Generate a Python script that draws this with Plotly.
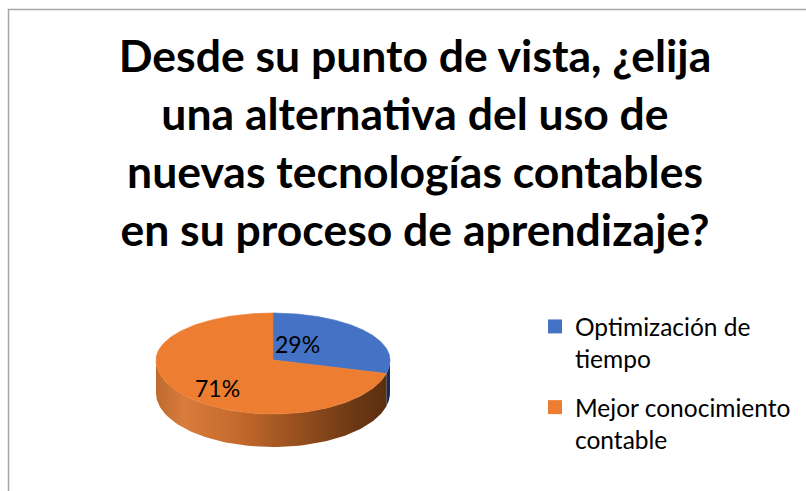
import numpy as np
import plotly.graph_objects as go

# ---- data ----
CATEGORIES = ["Optimización de tiempo", "Mejor conocimiento contable"]
LEGEND_LABELS = ["Optimización de<br>tiempo", "Mejor conocimiento<br>contable"]
VALUES = [29, 71]
PCT_LABELS = ["29%", "71%"]
TITLE_LINES = [
    "Desde su punto de vista, ¿elija",
    "una alternativa del uso de",
    "nuevas tecnologías contables",
    "en su proceso de aprendizaje?",
]

# ---- style ----
COLORS = ["#4472C4", "#ED7D31"]
SIDE_SCALES = [
    [[0, "#3a5fa3"], [0.5, "#2a4476"], [1, "#1c2c50"]],
    [[0, "#bf6a2f"], [0.12, "#d97c3c"], [0.35, "#c46a2c"], [0.6, "#98501f"],
     [0.85, "#6c3814"], [1, "#5a2e0f"]],
]
W, H = 806, 491
CX, CY, RX, RY_BACK, RY_FRONT, DEPTH = 273, 360, 117, 47, 54, 33
LABEL_FRAC = [(0.26, 0.56), (0.6, 0.85)]
FONT = "Lato"


def ellipse(theta_deg, dy=0.0):
    t = np.radians(theta_deg)
    c = np.cos(t)
    x = CX + RX * np.sin(t)
    y = CY - np.where(c > 0, RY_BACK, RY_FRONT) * c + dy
    return x, y


total = float(sum(VALUES))
bounds = np.concatenate([[0.0], np.cumsum(VALUES) / total * 360.0])

fig = go.Figure()

# visible side walls (front half: 90..270 deg)
for i in range(len(VALUES)):
    lo, hi = max(bounds[i], 90.0), min(bounds[i + 1], 270.0)
    if hi <= lo:
        continue
    th = np.linspace(lo, hi, 80)
    xt, yt = ellipse(th)
    xb, yb = ellipse(th[::-1], DEPTH)
    fig.add_trace(go.Scatter(
        x=np.concatenate([xt, xb]), y=np.concatenate([yt, yb]),
        mode="lines", fill="toself", line=dict(width=0),
        fillgradient=dict(type="horizontal", colorscale=SIDE_SCALES[i],
                          start=CX - RX, stop=CX + RX),
        hoverinfo="skip", showlegend=False))

# top faces
for i in range(len(VALUES)):
    th = np.linspace(bounds[i], bounds[i + 1], 200)
    xa, ya = ellipse(th)
    fig.add_trace(go.Scatter(
        x=np.concatenate([[CX], xa, [CX]]), y=np.concatenate([[CY], ya, [CY]]),
        mode="lines", fill="toself", fillcolor=COLORS[i],
        line=dict(width=0.6, color=COLORS[i]),
        name=CATEGORIES[i], hoverinfo="name", showlegend=False))

# legend entries
for i in range(len(VALUES)):
    fig.add_trace(go.Scatter(
        x=[None], y=[None], mode="markers",
        marker=dict(symbol="square", size=14, color=COLORS[i]),
        name=LEGEND_LABELS[i], legendgroup=f"g{i}", showlegend=True))

# percentage labels
for i in range(len(VALUES)):
    mid = np.radians((bounds[i] + bounds[i + 1]) / 2)
    fx, fy = LABEL_FRAC[i]
    c = np.cos(mid)
    ry = RY_BACK if c > 0 else RY_FRONT
    fig.add_annotation(
        x=CX + RX * fx * np.sin(mid), y=CY - ry * fy * c,
        xref="x", yref="y", text=PCT_LABELS[i], showarrow=False,
        font=dict(family=FONT, size=23, color="#000000"))

fig.update_layout(
    width=W, height=H,
    margin=dict(l=0, r=0, t=0, b=0),
    paper_bgcolor="white", plot_bgcolor="white",
    title=dict(text="<br>".join(TITLE_LINES), x=415 / W, xanchor="center",
               y=1 - 72 / H, yanchor="top", yref="container",
               font=dict(family=FONT, size=44.5, color="#000000", weight="bold")),
    xaxis=dict(range=[0, W], visible=False, fixedrange=True),
    yaxis=dict(range=[H, 0], visible=False, fixedrange=True),
    legend=dict(x=535 / W, y=1 - 304 / H, xanchor="left", yanchor="top",
                font=dict(family=FONT, size=24.5, color="#000000"),
                valign="top", tracegroupgap=14, bgcolor="rgba(0,0,0,0)",
                itemclick=False, itemdoubleclick=False),
    shapes=[dict(type="rect", xref="paper", yref="paper",
                 x0=8.5 / W, x1=1.02, y0=-0.02, y1=1 - 9.5 / H,
                 line=dict(color="#a6a6a6", width=1.5), fillcolor="rgba(0,0,0,0)")],
    showlegend=True,
)

fig.write_html("out.html", config={"displayModeBar": False},
               post_script="document.body.style.margin='0';")
